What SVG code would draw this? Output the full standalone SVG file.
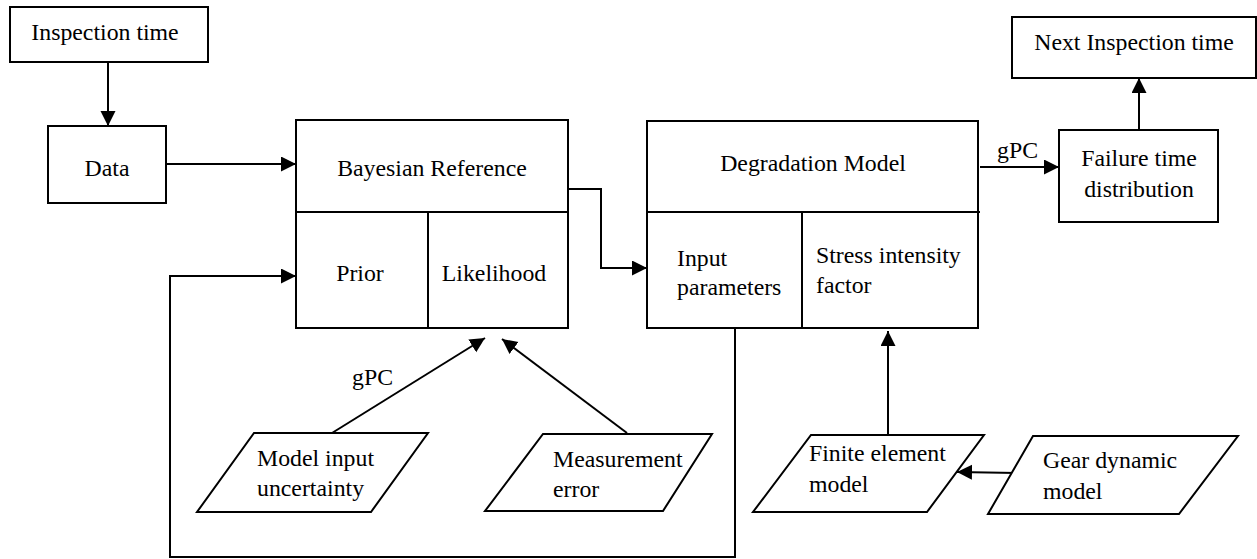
<svg xmlns="http://www.w3.org/2000/svg" width="1257" height="559" viewBox="0 0 1257 559">
<style>
.b{fill:#fff;stroke:#000;stroke-width:2}
.l{fill:none;stroke:#000;stroke-width:2}
.c{stroke:#000;stroke-width:2;fill:none}
text{font-family:'Liberation Serif','DejaVu Serif',serif;font-size:23.8px;fill:#000}
.m{text-anchor:middle}
</style>
<defs>
<marker id="ah" markerUnits="userSpaceOnUse" markerWidth="16" markerHeight="16" refX="15" refY="7.5" orient="auto">
<path d="M0,0 L15,7.5 L0,15 z" fill="#000"/>
</marker>
</defs>
<rect width="1257" height="559" fill="#fff"/>
<g id="connectors">
<line class="c" x1="108" y1="62" x2="108" y2="126" marker-end="url(#ah)"/>
<line class="c" x1="166" y1="164" x2="296" y2="164" marker-end="url(#ah)"/>
<path class="c" d="M568,189 H601 V268 H647" marker-end="url(#ah)"/>
<path class="c" d="M735,328 V557 H170 V276 H296" marker-end="url(#ah)"/>
<line class="c" x1="332" y1="433" x2="485" y2="338" marker-end="url(#ah)"/>
<line class="c" x1="627" y1="433" x2="502" y2="339" marker-end="url(#ah)"/>
<line class="c" x1="980" y1="167" x2="1059" y2="167" marker-end="url(#ah)"/>
<line class="c" x1="1139" y1="130" x2="1139" y2="78" marker-end="url(#ah)"/>
<line class="c" x1="888" y1="435" x2="888" y2="331" marker-end="url(#ah)"/>
<line class="c" x1="1017" y1="473" x2="957" y2="472" marker-end="url(#ah)"/>
<text x="352" y="385" font-family="Liberation Serif, serif">gPC</text>
<text x="997" y="158" font-family="Liberation Serif, serif">gPC</text>
</g>
<g id="inspection">
<rect class="b" x="10" y="7" width="198" height="55"/>
<text class="m" x="105" y="40">Inspection time</text>
</g>
<g id="data">
<rect class="b" x="48" y="126" width="118" height="77"/>
<text class="m" x="107" y="176">Data</text>
</g>
<g id="bayesian">
<rect class="b" x="296" y="120" width="272" height="208"/>
<line class="l" x1="296" y1="212" x2="568" y2="212"/>
<line class="l" x1="428" y1="212" x2="428" y2="328"/>
<text class="m" x="432" y="176">Bayesian Reference</text>
<text class="m" x="360" y="281">Prior</text>
<text class="m" x="494" y="281">Likelihood</text>
</g>
<g id="degradation">
<rect class="b" x="647" y="121" width="331" height="207"/>
<line class="l" x1="647" y1="212" x2="980" y2="212"/>
<line class="l" x1="802" y1="212" x2="802" y2="328"/>
<text class="m" x="813" y="171">Degradation Model</text>
<text x="677" y="266">Input</text>
<text x="677" y="295">parameters</text>
<text x="816" y="263">Stress intensity</text>
<text x="816" y="293">factor</text>
</g>
<g id="failure">
<rect class="b" x="1059" y="130" width="159" height="92"/>
<text class="m" x="1139" y="166">Failure time</text>
<text class="m" x="1139" y="197">distribution</text>
</g>
<g id="next">
<rect class="b" x="1012" y="17" width="244" height="61"/>
<text class="m" x="1134" y="50">Next Inspection time</text>
</g>
<g id="model-input">
<polygon class="b" points="254,433 428,433 371,512 197,512"/>
<text x="257" y="466">Model input</text>
<text x="257" y="496">uncertainty</text>
</g>
<g id="measurement">
<polygon class="b" points="543,434 712,434 663,511 485,511"/>
<text x="553" y="467">Measurement</text>
<text x="553" y="497">error</text>
</g>
<g id="finite-element">
<polygon class="b" points="811,435 984,435 927,512 753,512"/>
<text x="809" y="461">Finite element</text>
<text x="809" y="492">model</text>
</g>
<g id="gear">
<polygon class="b" points="1033,436 1238,436 1179,514 988,514"/>
<text x="1043" y="468">Gear dynamic</text>
<text x="1043" y="499">model</text>
</g>
</svg>
